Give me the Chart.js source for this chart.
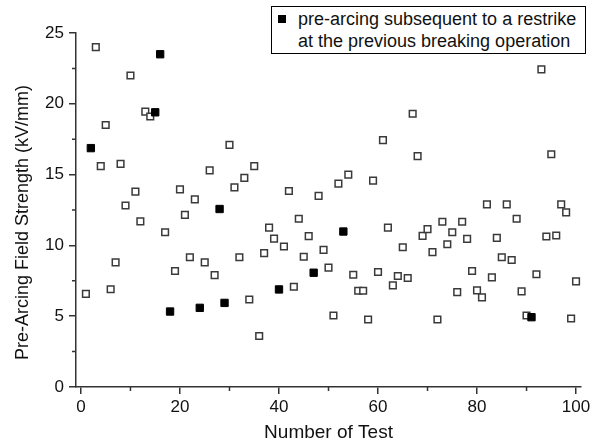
<!DOCTYPE html>
<html>
<head>
<meta charset="utf-8">
<script src="https://cdn.jsdelivr.net/npm/chart.js@4.4.0/dist/chart.umd.min.js"></script>
<style>
	body { margin: 0; background: #fff; }
	#wrap { position: relative; width: 601px; height: 448px; }
	#legend {
		position: absolute; left: 271px; top: 6px;
		width: 287px; height: 44px; padding: 2px 0 0 26px;
		border: 1px solid #000; background: #fff; color: #111;
		font: 18px "Liberation Sans", Arial, sans-serif; line-height: 21.5px;
		white-space: nowrap;
	}
	#legend .mark { position: absolute; left: 6px; top: 8px; width: 8px; height: 8px; background: #000; }
</style>
</head>
<body>
<div id="wrap">
	<canvas id="myChart" width="601" height="448"></canvas>
	<div id="legend"><span class="mark"></span>pre-arcing subsequent to a restrike<br>at the previous breaking operation</div>
</div>
<script>
// Data
const openTests = [1, 3, 4, 5, 6, 7, 8, 9, 10, 11, 12, 13, 14, 17, 19, 20, 21, 22, 23, 25, 26, 27, 30, 31, 32, 33, 34, 35, 36, 37, 38, 39, 41, 42, 43, 44, 45, 46, 48, 49, 50, 51, 52, 54, 55, 56, 57, 58, 59, 60, 61, 62, 63, 64, 65, 66, 67, 68, 69, 70, 71, 72, 73, 74, 75, 76, 77, 78, 79, 80, 81, 82, 83, 84, 85, 86, 87, 88, 89, 90, 92, 93, 94, 95, 96, 97, 98, 99, 100];
const openField = [6.58, 24.0, 15.6, 18.5, 6.9, 8.8, 15.76, 12.82, 22.0, 13.8, 11.7, 19.45, 19.1, 10.93, 8.19, 13.96, 12.16, 9.16, 13.25, 8.8, 15.3, 7.9, 17.1, 14.1, 9.16, 14.77, 6.18, 15.6, 3.6, 9.45, 11.26, 10.48, 9.92, 13.84, 7.08, 11.88, 9.2, 10.65, 13.5, 9.68, 8.43, 5.05, 14.36, 15.0, 7.93, 6.8, 6.8, 4.77, 14.57, 8.12, 17.43, 11.26, 7.18, 7.84, 9.87, 7.7, 19.3, 16.3, 10.67, 11.15, 9.52, 4.77, 11.67, 10.08, 10.93, 6.7, 11.67, 10.46, 8.19, 6.82, 6.33, 12.9, 7.74, 10.53, 9.16, 12.9, 8.97, 11.88, 6.75, 5.05, 7.96, 22.43, 10.63, 16.44, 10.7, 12.9, 12.33, 4.84, 7.46];
const restrikeTests = [2, 15, 16, 18, 24, 28, 29, 40, 47, 53, 91];
const restrikeField = [16.87, 19.4, 23.5, 5.33, 5.59, 12.57, 5.94, 6.89, 8.07, 10.98, 4.93];
const xTicks = [0, 20, 40, 60, 80, 100];
const yTicks = [0, 5, 10, 15, 20, 25];

const axisColor = "#333";
const textColor = "#111";
const ctx = document.getElementById("myChart").getContext("2d");
Chart.defaults.font.family = '"Liberation Sans", Arial, sans-serif';

// --------------------------- Minor ticks ---------------------------
const minorTicks = {
	id: "minorTicks",
	afterDraw(chart) {
		const { ctx, scales: { x, y } } = chart;
		ctx.save();
		ctx.strokeStyle = axisColor;
		ctx.lineWidth = 1.5;
		ctx.beginPath();
		x.ticks.forEach((t) => {
			if (xTicks.includes(t.value)) return;
			const px = x.getPixelForValue(t.value);
			ctx.moveTo(px, x.top);
			ctx.lineTo(px, x.top + 4);
		});
		y.ticks.forEach((t) => {
			if (yTicks.includes(t.value)) return;
			const py = y.getPixelForValue(t.value);
			ctx.moveTo(y.right, py);
			ctx.lineTo(y.right - 4, py);
		});
		ctx.stroke();
		ctx.restore();
	},
};

const toPoints = (xs, ys) => xs.map((v, i) => ({ x: v, y: ys[i] }));

new Chart(ctx, {
	type: "scatter",
	data: {
		datasets: [
			{
				label: "pre-arcing subsequent to a restrike at the previous breaking operation",
				data: toPoints(restrikeTests, restrikeField),
				pointStyle: "rect",
				pointRadius: 5.2,
				backgroundColor: "#000",
				borderColor: "#000",
				borderWidth: 1,
			},
			{
				label: "pre-arcing",
				data: toPoints(openTests, openField),
				pointStyle: "rect",
				pointRadius: 4.7,
				backgroundColor: "#fff",
				borderColor: "#3a3a3a",
				borderWidth: 1.5,
			},
		],
	},
	options: {
		responsive: false,
		animation: false,
		layout: { padding: { top: 33, right: 20, left: 0, bottom: 0 } },
		plugins: {
			legend: { display: false },
			tooltip: { enabled: false },
		},
		scales: {
			x: {
				type: "linear",
				min: -1,
				max: 101,
				afterFit: (s) => { s.height = 61; },
				border: { color: axisColor, width: 1.5 },
				grid: {
					drawOnChartArea: false,
					tickLength: 7,
					lineWidth: 1.5,
					tickColor: (c) => (c.tick && xTicks.includes(c.tick.value) ? axisColor : "transparent"),
				},
				ticks: {
					stepSize: 10,
					includeBounds: false,
					padding: 3,
					maxRotation: 0,
					color: textColor,
					font: { size: 17 },
					callback: (v) => (xTicks.includes(v) ? String(v) : ""),
				},
				title: {
					display: true,
					text: "Number of Test",
					color: textColor,
					font: { size: 19 },
					padding: { top: 0, bottom: 4 },
				},
			},
			y: {
				min: 0,
				max: 25,
				afterFit: (s) => { s.width = 76; },
				border: { color: axisColor, width: 1.5 },
				grid: {
					drawOnChartArea: false,
					tickLength: 7,
					lineWidth: 1.5,
					tickColor: (c) => (c.tick && yTicks.includes(c.tick.value) ? axisColor : "transparent"),
				},
				ticks: {
					stepSize: 2.5,
					padding: 5,
					color: textColor,
					font: { size: 17 },
					callback: (v) => (yTicks.includes(v) ? String(v) : ""),
				},
				title: {
					display: true,
					text: "Pre-Arcing Field Strength (kV/mm)     ",
					color: textColor,
					font: { size: 18 },
					padding: { top: 12, bottom: 0 },
				},
			},
		},
	},
	plugins: [minorTicks],
});
</script>
</body>
</html>
